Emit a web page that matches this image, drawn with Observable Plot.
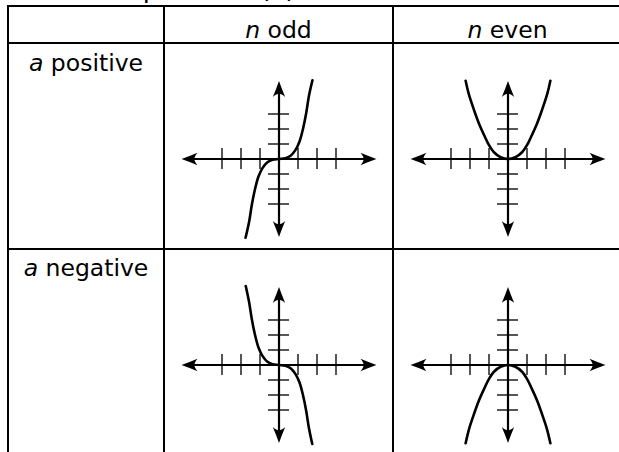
<!DOCTYPE html>
<html><head><meta charset="utf-8">
<script src="https://cdn.jsdelivr.net/npm/d3@7"></script>
<script src="https://cdn.jsdelivr.net/npm/@observablehq/plot@0.6"></script>
<style>
html,body{margin:0;padding:0;background:#fff;overflow:hidden;}
body{width:619px;height:452px;position:relative;font-family:"DejaVu Sans",sans-serif;color:#000;}
#title{position:absolute;left:96px;top:-25px;height:26px;font-size:26px;line-height:26px;white-space:nowrap;word-spacing:10px;}
#grid{position:absolute;left:7px;top:5px;display:grid;grid-template-columns:154px 227px 227px;grid-template-rows:35px 204px 204px;gap:2px;padding:2px;background:#000;}
.cell{background:#fff;font-size:23.5px;line-height:23px;text-align:center;overflow:hidden;box-sizing:border-box;white-space:nowrap;}
.head{padding-top:12px;}
.cell svg{display:block;}
</style>
</head><body>
<div id="title">Graphs of <i>f</i>(<i>x</i>) = <i>ax</i>ⁿ</div>
<div id="grid"></div>
<script>
// ---- data ----
const colVar = "n";
const colLabels = ["odd", "even"];
const rowVar = "a";
const rowLabels = ["positive", "negative"];
const tickValues = [-3, -2, -1, 1, 2, 3];
const xAxisExtent = [-5.13, 5.13];
const yAxisExtent = [-5.2, 5.2];

// n odd, a positive
const oddPosX = [-1.76, -1.57, -1.43, -1.27, -1.08, -0.87, -0.61, -0.34, 0, 0.34, 0.61, 0.87, 1.08, 1.27, 1.43, 1.57, 1.76];
const oddPosY = [-5.25, -4.17, -3.05, -2.05, -1.17, -0.61, -0.22, -0.05, 0, 0.05, 0.22, 0.61, 1.17, 2.05, 3.05, 4.17, 5.25];
// n even, a positive
const evenPosX = [-2.23, -2.05, -1.79, -1.53, -1.26, -1.0, -0.74, -0.39, 0, 0.39, 0.74, 1.0, 1.26, 1.53, 1.79, 2.05, 2.23];
const evenPosY = [5.22, 4.27, 3.27, 2.37, 1.6, 0.92, 0.45, 0.12, 0, 0.12, 0.45, 0.92, 1.6, 2.37, 3.27, 4.27, 5.22];
// n odd, a negative
const oddNegX = [-1.75, -1.57, -1.43, -1.27, -1.08, -0.87, -0.61, -0.34, 0, 0.34, 0.61, 0.87, 1.08, 1.27, 1.43, 1.57, 1.75];
const oddNegY = [5.27, 4.17, 3.05, 2.05, 1.17, 0.61, 0.22, 0.05, 0, -0.05, -0.22, -0.61, -1.17, -2.05, -3.05, -4.17, -5.27];
// n even, a negative
const evenNegX = [-2.23, -2.05, -1.79, -1.53, -1.26, -1.0, -0.74, -0.39, 0, 0.39, 0.74, 1.0, 1.26, 1.53, 1.79, 2.05, 2.23];
const evenNegY = [-5.22, -4.27, -3.27, -2.37, -1.6, -0.92, -0.45, -0.12, 0, -0.12, -0.45, -0.92, -1.6, -2.37, -3.27, -4.27, -5.22];

// ---- layout / style ----
const W = 227, H = 204;
const pxX = 19, pxY = 15;
const originX = 113.5, originY = 114.5;
const tickHalf = 10.5;
const inset = 10;

const arrowSymbol = {
  draw(ctx) {
    ctx.moveTo(0, 0);
    ctx.quadraticCurveTo(3, 8.5, 6.2, 16);
    ctx.quadraticCurveTo(2.5, 12.8, 0, 12.8);
    ctx.quadraticCurveTo(-2.5, 12.8, -6.2, 16);
    ctx.quadraticCurveTo(-3, 8.5, 0, 0);
    ctx.closePath();
  }
};

function panel(xs, ys) {
  const pts = xs.map((x, i) => ({x, y: ys[i]}));
  const tips = [
    {x: xAxisExtent[1], y: 0, r: 90},
    {x: xAxisExtent[0], y: 0, r: -90},
    {x: 0, y: yAxisExtent[1], r: 0},
    {x: 0, y: yAxisExtent[0], r: 180}
  ];
  return Plot.plot({
    width: W, height: H, margin: 0,
    x: {domain: [-originX / pxX, (W - originX) / pxX], range: [0, W], axis: null},
    y: {domain: [-(H - originY) / pxY, originY / pxY], range: [H, 0], axis: null},
    marks: [
      Plot.ruleX(tickValues, {y1: -tickHalf / pxY, y2: tickHalf / pxY, stroke: "#444", strokeWidth: 1.8}),
      Plot.ruleY(tickValues, {x1: -tickHalf / pxX, x2: tickHalf / pxX, stroke: "#444", strokeWidth: 1.8}),
      Plot.ruleY([0], {x1: xAxisExtent[0] + inset / pxX, x2: xAxisExtent[1] - inset / pxX, stroke: "#000", strokeWidth: 2.2}),
      Plot.ruleX([0], {y1: yAxisExtent[0] + inset / pxY, y2: yAxisExtent[1] - inset / pxY, stroke: "#000", strokeWidth: 2.2}),
      Plot.line(pts, {x: "x", y: "y", curve: "catmull-rom", stroke: "#000", strokeWidth: 2.6}),
      Plot.dot(tips, {x: "x", y: "y", rotate: "r", symbol: arrowSymbol, fill: "#000", stroke: "none"})
    ]
  });
}

const grid = document.getElementById("grid");
function cell(cls, pad) {
  const d = document.createElement("div");
  d.className = "cell " + cls;
  if (pad != null) d.style.paddingTop = pad + "px";
  grid.appendChild(d);
  return d;
}
// header row
cell("head");
colLabels.forEach(l => { cell("head").innerHTML = `<i>${colVar}</i> ${l}`; });
const curves = [[[oddPosX, oddPosY], [evenPosX, evenPosY]], [[oddNegX, oddNegY], [evenNegX, evenNegY]]];
const rowPads = [8, 6.5];
rowLabels.forEach((l, r) => {
  cell("label", rowPads[r]).innerHTML = `<i>${rowVar}</i> ${l}`;
  curves[r].forEach(([xs, ys]) => { cell("plot").appendChild(panel(xs, ys)); });
});
</script>
</body></html>
